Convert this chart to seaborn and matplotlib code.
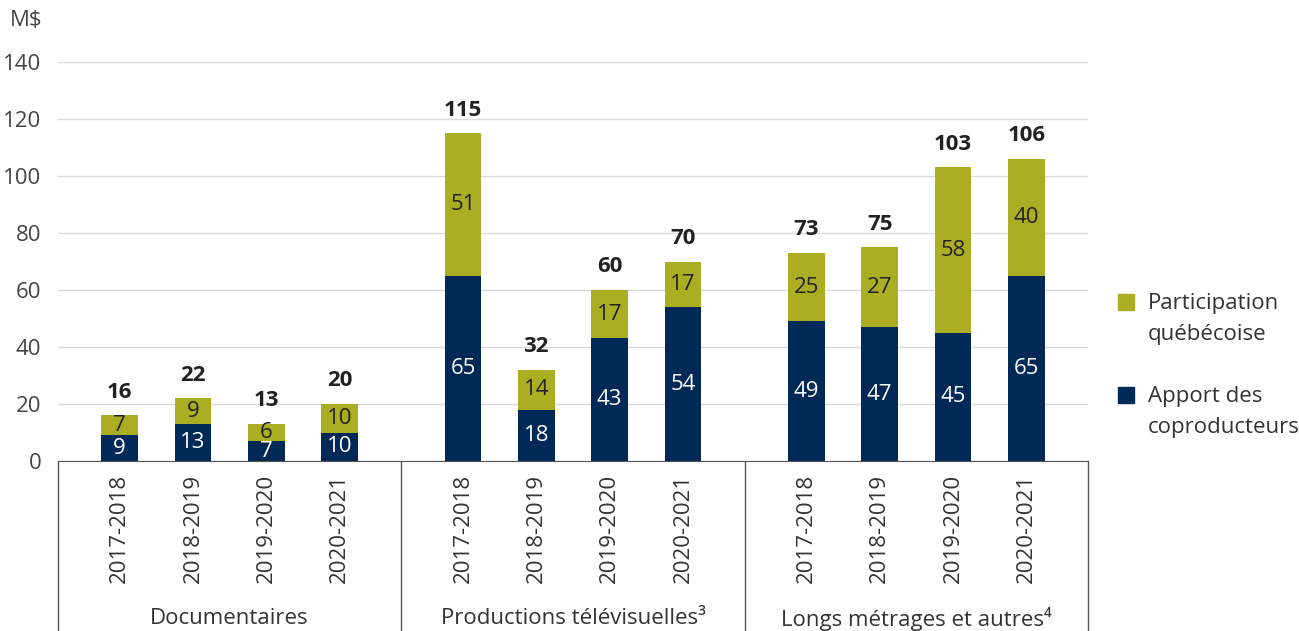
import pandas as pd
import matplotlib.pyplot as plt
import seaborn as sns
from matplotlib.patches import Rectangle

# Data (M$)
groups = ["Documentaires", "Productions télévisuelles³", "Longs métrages et autres⁴"]
years = ["2017-2018", "2018-2019", "2019-2020", "2020-2021"]
apport = [9, 13, 7, 10, 65, 18, 43, 54, 49, 47, 45, 65]
participation = [7, 9, 6, 10, 51, 14, 17, 17, 25, 27, 58, 40]
totals = [16, 22, 13, 20, 115, 32, 60, 70, 73, 75, 103, 106]
legend_labels = ["Participation\nquébécoise", "Apport des\ncoproducteurs"]

olive = "#ABAD23"
navy = "#002957"
txt = "#333333"

sns.set_style("white")
plt.rcParams["font.family"] = ["Open Sans", "DejaVu Sans"]

# x positions: 4 bars per group, groups separated by a wider gap
group_w = 4.68
pos = [g * group_w + 0.84 + k for g in range(len(groups)) for k in range(len(years))]
df = pd.DataFrame({"x": pos, "apport": apport, "total": totals,
                   "year": years * len(groups)})

W, H = 1299, 631
fig = plt.figure(figsize=(W / 100, H / 100), dpi=100)
ax = fig.add_axes([58 / W, 170 / H, 1030 / W, 399 / H])

sns.barplot(data=df, x="x", y="total", color=olive, native_scale=True,
            width=0.5, saturation=1, linewidth=0, ax=ax)
sns.barplot(data=df, x="x", y="apport", color=navy, native_scale=True,
            width=0.5, saturation=1, linewidth=0, ax=ax)

ax.set_xlim(0, group_w * len(groups))
ax.set_ylim(0, 140)
ax.set_yticks(range(0, 141, 20))
ax.yaxis.grid(True, color="#d9d9d9", linewidth=1)
ax.set_axisbelow(True)
for s in ["top", "right", "left"]:
    ax.spines[s].set_visible(False)
ax.spines["bottom"].set_color("#555555")
ax.tick_params(axis="y", length=0, labelsize=16, labelcolor="#444444", pad=12)
ax.set_xlabel("")
ax.set_ylabel("")

# Year labels
ax.set_xticks(pos)
ax.set_xticklabels(df["year"], rotation=90, fontsize=16, color=txt)
ax.tick_params(axis="x", length=0, pad=9)
# small ticks between bars
minor = [g * group_w + 0.84 + k + 0.5 for g in range(len(groups)) for k in range(3)]
ax.set_xticks(minor, minor=True)
ax.tick_params(axis="x", which="minor", length=6, color="#555555")

# group separators and names
trans = ax.get_xaxis_transform()
for g in range(len(groups) + 1):
    ax.axvline(g * group_w, ymin=-0.45, ymax=0, color="#555555", lw=1, clip_on=False)
for g, name in enumerate(groups):
    ax.text(g * group_w + group_w / 2, -0.395, name, transform=trans,
            ha="center", va="center", fontsize=16, color=txt)

# value labels
for x, a, p, t in zip(pos, apport, participation, totals):
    ax.text(x, a / 2, str(a), ha="center", va="center", fontsize=16, color="white")
    ax.text(x, a + (t - a) / 2, str(p), ha="center", va="center", fontsize=16, color="#222222")
    ax.annotate(str(t), (x, t), xytext=(0, 9), textcoords="offset points",
                ha="center", va="bottom", fontsize=16, fontweight="bold", color="#222222")

fig.text(10 / W, 1 - 20 / H, "M$", fontsize=16, color="#444444", va="center")

# legend: square aligned with the first text line
for i, (lab, col) in enumerate(zip(legend_labels, [olive, navy])):
    yc = 302 + i * 93
    fig.patches.append(Rectangle((1118 / W, 1 - (yc + 8) / H), 16 / W, 16 / H,
                                 color=col, transform=fig.transFigure))
    fig.text(1148 / W, 1 - (yc - 9) / H, lab, fontsize=16, color=txt,
             va="top", ha="left", linespacing=1.6)

plt.savefig("out.png", dpi=100)
